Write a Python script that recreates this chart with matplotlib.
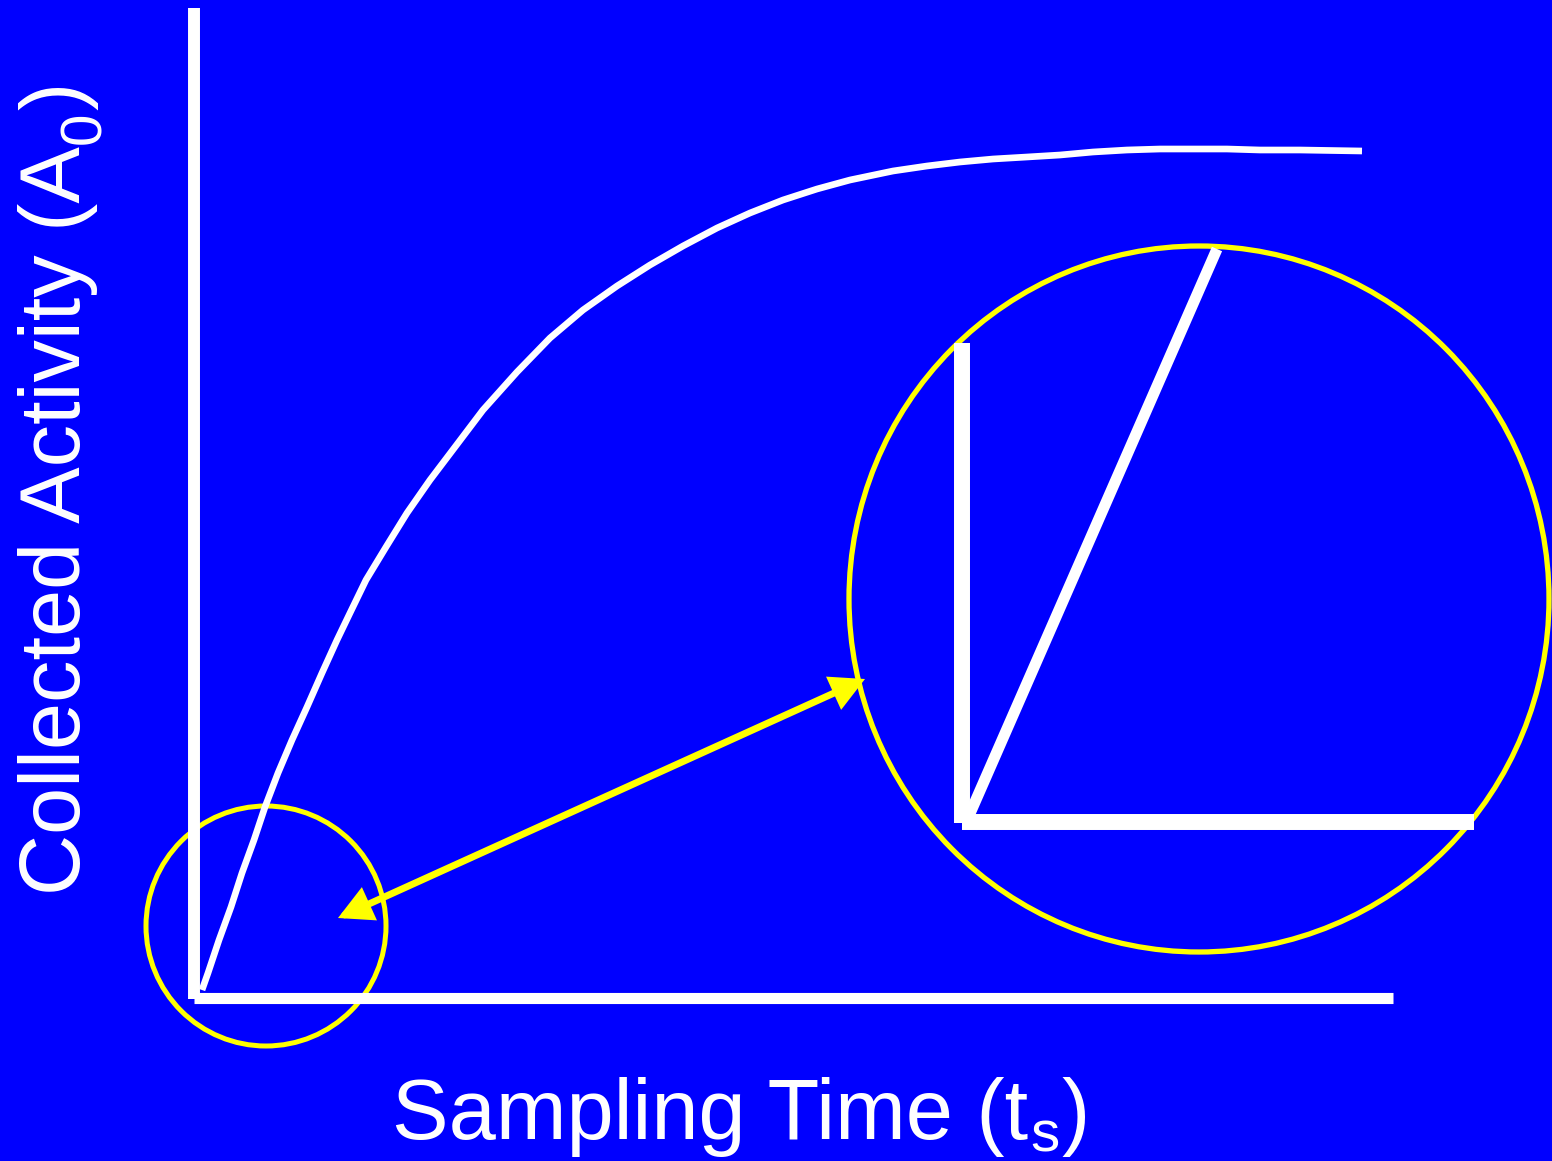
import matplotlib.pyplot as plt
from matplotlib.patches import Ellipse, FancyArrowPatch

plt.rcParams['font.family'] = ['Liberation Sans', 'DejaVu Sans']

BLUE = '#0000FF'
YELLOW = '#FFFF00'

# sketch coordinates (pixels, y downwards)
curve_x = [202, 208, 219, 231, 242, 254, 265, 278, 292, 307, 322, 337, 350, 366,
           386, 407, 430, 455, 483, 517, 550, 583, 617, 650, 683, 717, 750, 783,
           817, 850, 893, 927, 960, 993, 1027, 1060, 1093, 1127, 1160, 1193,
           1227, 1260, 1300, 1362]
curve_y = [990, 973, 940, 907, 873, 840, 807, 773, 740, 707, 673, 640, 613, 580,
           547, 513, 480, 447, 410, 372, 338, 310, 286, 265, 246, 228, 213, 200,
           189, 180, 171, 166, 162, 159, 157, 155, 152, 150, 149, 149,
           149, 150, 150, 151]

yaxis_x = [194, 194]
yaxis_y = [8, 999]
xaxis_x = [194, 1393]
xaxis_y = [998, 998]

# zoomed inset
inset_v_x = [962, 962]
inset_v_y = [343, 823]
inset_h_x = [962, 1474]
inset_h_y = [822, 822]
inset_line_x = [968, 1217]
inset_line_y = [818, 249]

small_circle = (266, 926, 240)      # cx, cy, diameter
big_circle = (1199, 599, 700, 706)  # cx, cy, width, height
arrow_start = (338, 918)
arrow_end = (865, 679)

xlabel_parts = ['Sampling Time (t', 's', ')']
ylabel_parts = ['Collected Activity (A', '0', ')']

fig = plt.figure(figsize=(15.52, 11.61), dpi=100)
fig.patch.set_facecolor(BLUE)
ax = fig.add_axes([0, 0, 1, 1])
ax.set_facecolor(BLUE)
ax.set_xlim(0, 1552)
ax.set_ylim(1161, 0)
ax.axis('off')

ax.plot(yaxis_x, yaxis_y, color='white', lw=8.6, solid_capstyle='butt')
ax.plot(xaxis_x, xaxis_y, color='white', lw=8.0, solid_capstyle='butt')
ax.plot(curve_x, curve_y, color='white', lw=4.8, solid_capstyle='butt', solid_joinstyle='round')

ax.plot(inset_v_x, inset_v_y, color='white', lw=11.5, solid_capstyle='butt')
ax.plot(inset_h_x, inset_h_y, color='white', lw=11.5, solid_capstyle='butt')
ax.plot(inset_line_x, inset_line_y, color='white', lw=8, solid_capstyle='butt')

ax.add_patch(Ellipse(small_circle[:2], small_circle[2], small_circle[2],
                     fill=False, ec=YELLOW, lw=3.6))
ax.add_patch(Ellipse(big_circle[:2], big_circle[2], big_circle[3],
                     fill=False, ec=YELLOW, lw=3.8))

arr = FancyArrowPatch(arrow_start, arrow_end,
                      arrowstyle='<|-|>,head_length=0.85,head_width=0.45',
                      mutation_scale=20, color=YELLOW, lw=5,
                      shrinkA=0, shrinkB=0, joinstyle='miter')
ax.add_patch(arr)

# labels with hand-placed subscripts
big, small = 61, 42
inv = ax.transData.inverted()

# x label: baseline y=1139, starts x=392
t1 = ax.text(392, 1139, xlabel_parts[0], color='white', fontsize=big,
             ha='left', va='baseline')
fig.canvas.draw()
x1 = inv.transform(t1.get_window_extent().get_points())[1][0]
t2 = ax.text(x1 + 2, 1152, xlabel_parts[1], color='white', fontsize=small,
             ha='left', va='baseline')
fig.canvas.draw()
x2 = inv.transform(t2.get_window_extent().get_points())[1][0]
ax.text(x2 + 2, 1139, xlabel_parts[2], color='white', fontsize=big,
        ha='left', va='baseline')

# y label: rotated, baseline x=80, starts y=895
r1 = ax.text(80, 895, ylabel_parts[0], color='white', fontsize=big,
             rotation=90, rotation_mode='anchor', ha='left', va='baseline')
fig.canvas.draw()
y1 = inv.transform(r1.get_window_extent().get_points())[1][1]
r2 = ax.text(100, y1 - 2, ylabel_parts[1], color='white', fontsize=small,
             rotation=90, rotation_mode='anchor', ha='left', va='baseline')
fig.canvas.draw()
y2 = inv.transform(r2.get_window_extent().get_points())[1][1]
ax.text(80, y2 - 2, ylabel_parts[2], color='white', fontsize=big,
        rotation=90, rotation_mode='anchor', ha='left', va='baseline')

plt.savefig('out.png', facecolor=BLUE)
